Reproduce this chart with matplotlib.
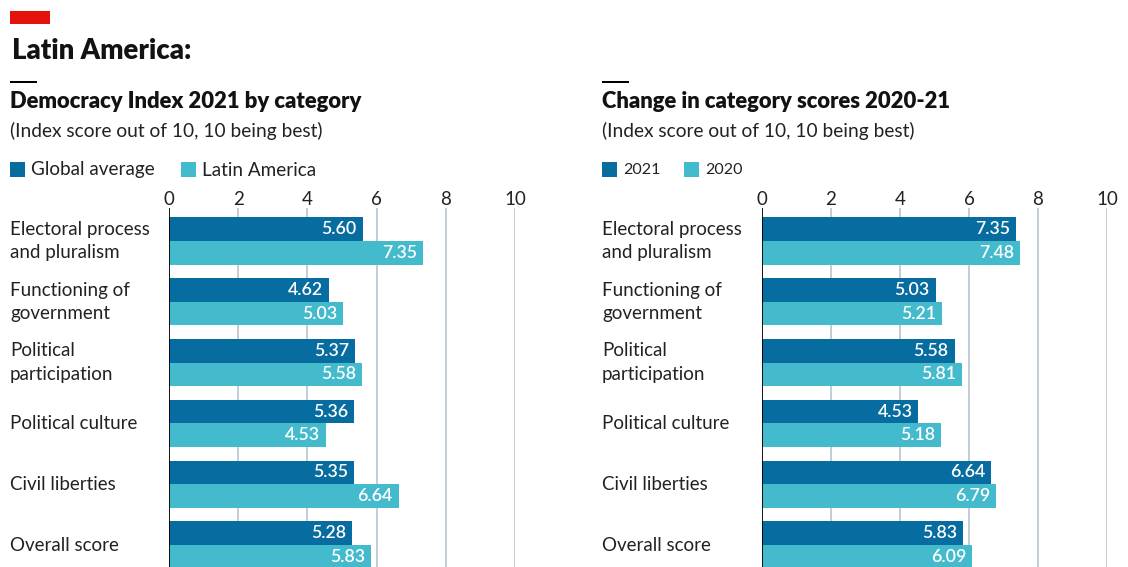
import matplotlib
matplotlib.use("Agg")
import matplotlib.pyplot as plt
from matplotlib.patches import Rectangle
import numpy as np

categories = ["Electoral process\nand pluralism", "Functioning of\ngovernment",
              "Political\nparticipation", "Political culture", "Civil liberties", "Overall score"]
global_avg = [5.60, 4.62, 5.37, 5.36, 5.35, 5.28]
latam_2021 = [7.35, 5.03, 5.58, 4.53, 6.64, 5.83]
latam_2020 = [7.48, 5.21, 5.81, 5.18, 6.79, 6.09]
ticks = [0, 2, 4, 6, 8, 10]

DARK = "#076CA0"
LIGHT = "#44BBCC"
GRID = "#BCCAD3"
FONT = "Lato"

W, H = 1128, 567
fig = plt.figure(figsize=(W / 100, H / 100), dpi=100)
fig.patch.set_facecolor("white")

def fx(x):
    return x / W

def fy(y):
    return 1 - y / H

def ftext(x, y, s, **kw):
    kw.setdefault("family", FONT)
    kw.setdefault("color", "#121212")
    fig.text(fx(x), fy(y), s, **kw)

# red tag
fig.patches.append(Rectangle((fx(10), fy(24)), fx(40), 13 / H, transform=fig.transFigure,
                             color="#E3120B", lw=0))
ftext(12, 51, "Latin America:", fontsize=19.8, fontweight="heavy", va="center")

def panel(textx, x0px, x10px, title, series_a, series_b, leg_a, leg_b, leg_b_x):
    # short black rule
    fig.patches.append(Rectangle((fx(textx), fy(83)), fx(27), 1.6 / H,
                                 transform=fig.transFigure, color="black", lw=0))
    ftext(textx, 102, title, fontsize=15.8, fontweight="heavy", va="center")
    ftext(textx, 131, "(Index score out of 10, 10 being best)", fontsize=13.8, va="center",
          color="#222222")
    # legend
    for lx, lab, col in [(textx, leg_a, DARK), (leg_b_x, leg_b, LIGHT)]:
        fig.patches.append(Rectangle((fx(lx), fy(177)), fx(15), 15 / H,
                                     transform=fig.transFigure, color=col, lw=0))
        ftext(lx + 21, 170, lab, fontsize=13.6 if len(lab) > 4 else 11.5, va="center",
              color="#222222")

    top, bottom = 208, H
    ax = fig.add_axes([fx(x0px), 0, fx(x10px - x0px), (bottom - top) / H])
    y = np.arange(len(categories))
    h = 0.39
    ax.barh(y - h / 2, series_a, height=h, color=DARK, zorder=3)
    ax.barh(y + h / 2, series_b, height=h, color=LIGHT, zorder=3)
    for yi, va_, vb_ in zip(y, series_a, series_b):
        ax.text(va_ - 0.17, yi - h / 2, f"{va_:.2f}", color="white", ha="right", va="center",
                fontsize=12.8, fontweight="semibold", family=FONT, zorder=4)
        ax.text(vb_ - 0.17, yi + h / 2, f"{vb_:.2f}", color="white", ha="right", va="center",
                fontsize=12.8, fontweight="semibold", family=FONT, zorder=4)
    ax.set_xlim(0, 10)
    ax.set_ylim(5 + (567 - 545) / 61, -(241 - 208) / 61)
    for t in ticks[1:]:
        ax.axvline(t, color=GRID, lw=1.3, zorder=1)
    ax.axvline(0, color="black", lw=1.3, zorder=5)
    for s in ax.spines.values():
        s.set_visible(False)
    ax.set_yticks([])
    ax.xaxis.set_ticks_position("top")
    ax.set_xticks(ticks)
    ax.set_xticklabels([str(t) for t in ticks], family=FONT, fontsize=13.5, color="#222222")
    ax.tick_params(axis="x", length=0, pad=0)
    ax.patch.set_alpha(0)
    fig.canvas.draw()
    for yi, cat in zip(y, categories):
        ypix = ax.transData.transform((0, yi))[1]
        fig.text(fx(textx), ypix / H, cat, family=FONT, fontsize=13.5,
                 va="center", ha="left", color="#222222", linespacing=1.45)
    return ax

panel(10, 169, 515, "Democracy Index 2021 by category", global_avg, latam_2021,
      "Global average", "Latin America", 181)
panel(602, 762, 1107, "Change in category scores 2020-21", latam_2021, latam_2020,
      "2021", "2020", 684)

fig.savefig("out.png", dpi=100, facecolor="white")
